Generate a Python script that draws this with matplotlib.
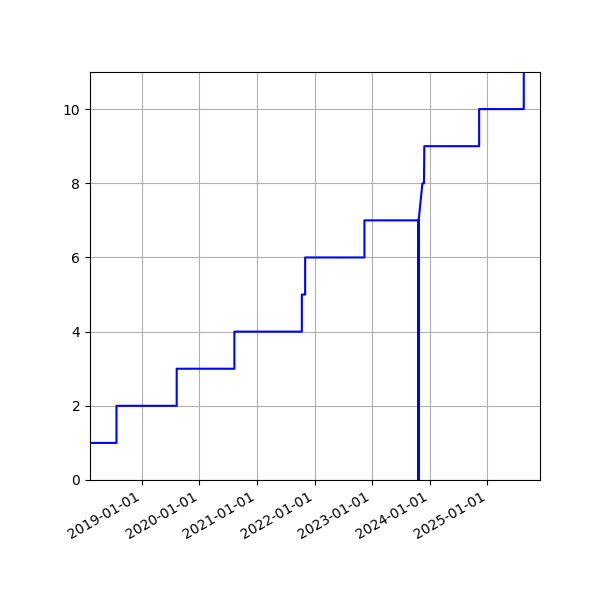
import pandas as pd
import matplotlib
matplotlib.use("Agg")
import matplotlib.pyplot as plt
import matplotlib.dates as mdates

dates = ["2018-02-06", "2018-07-24", "2018-07-24", "2019-08-10", "2019-08-10",
         "2020-08-10", "2020-08-10", "2021-10-12", "2021-10-12", "2021-11-02",
         "2021-11-02", "2022-11-13", "2022-11-13", "2023-10-22", "2023-10-22",
         "2023-10-23", "2023-11-16", "2023-11-26", "2023-11-28", "2024-11-10",
         "2024-11-10", "2025-08-20", "2025-08-20"]
values = [1, 1, 2, 2, 3, 3, 4, 4, 5, 5, 6, 6, 7, 7, 0, 7, 8, 8, 9, 9, 10, 10, 11.5]

x = pd.to_datetime(dates)

fig, ax = plt.subplots(figsize=(6, 6), dpi=100)
ax.plot(x, values, color="blue")
ax.set_xlim(pd.Timestamp("2018-02-06"), pd.Timestamp("2025-12-01"))
ax.set_ylim(0, 11)
ax.xaxis.set_major_locator(mdates.YearLocator())
ax.xaxis.set_major_formatter(mdates.DateFormatter("%Y-%m-%d"))
ax.grid(True)
fig.autofmt_xdate()
plt.subplots_adjust(left=0.15, right=0.9, top=0.88, bottom=0.2)
plt.savefig("out.png")
